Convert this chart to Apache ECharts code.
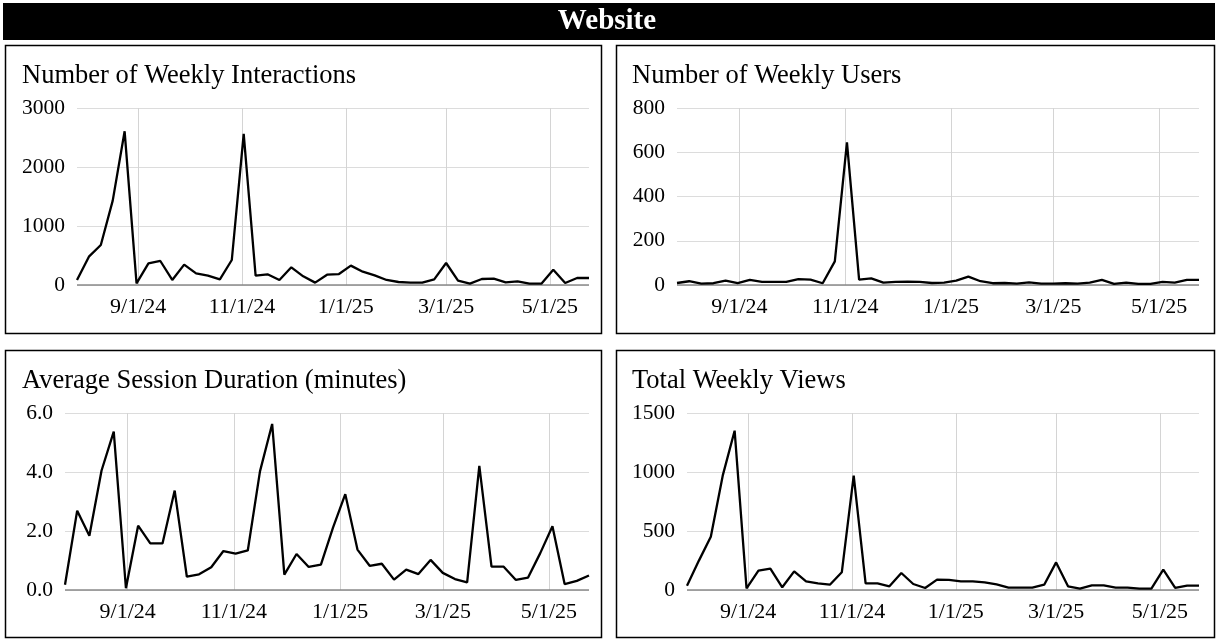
<!DOCTYPE html>
<html>
<head>
<meta charset="utf-8">
<script src="https://cdn.jsdelivr.net/npm/echarts@6/dist/echarts.min.js"></script>
<style>
html,body{margin:0;padding:0;background:#fff;}
#chart{width:1218px;height:640px;}
</style>
</head>
<body>
<div id="chart"></div>
<script>
const weeks = ['2024-07-27','2024-08-03','2024-08-10','2024-08-17','2024-08-24','2024-08-31','2024-09-07','2024-09-14','2024-09-21','2024-09-28','2024-10-05','2024-10-12','2024-10-19','2024-10-26','2024-11-02','2024-11-09','2024-11-16','2024-11-23','2024-11-30','2024-12-07','2024-12-14','2024-12-21','2024-12-28','2025-01-04','2025-01-11','2025-01-18','2025-01-25','2025-02-01','2025-02-08','2025-02-15','2025-02-22','2025-03-01','2025-03-08','2025-03-15','2025-03-22','2025-03-29','2025-04-05','2025-04-12','2025-04-19','2025-04-26','2025-05-03','2025-05-10','2025-05-17','2025-05-24'];
const dateTicks = ['2024-09-01','2024-11-01','2025-01-01','2025-03-01','2025-05-01'];

const interactions = [85,480,678,1430,2605,28,367,407,85,345,198,158,96,424,2560,158,181,85,300,147,40,175,186,328,226,164,85,51,40,40,96,373,73,23,102,107,45,62,23,23,260,34,119,119];
const users = [9,17,6,8,20,8,23,14,14,14,27,24,8,107,645,24,30,11,14,15,14,9,11,20,38,17,8,9,6,12,6,6,8,6,11,23,5,11,5,5,14,11,23,23];
const sessionMinutes = [0.18,2.69,1.84,4.05,5.37,0.06,2.18,1.58,1.58,3.37,0.45,0.53,0.77,1.32,1.23,1.34,4.02,5.63,0.52,1.22,0.78,0.86,2.12,3.25,1.37,0.82,0.89,0.35,0.69,0.54,1.02,0.58,0.37,0.26,4.21,0.79,0.79,0.34,0.42,1.25,2.16,0.20,0.31,0.49];
const views = [37,249,452,969,1350,14,164,181,23,158,73,56,45,150,969,56,56,31,144,51,17,88,85,73,73,65,48,20,20,20,45,234,31,11,40,40,20,20,11,11,172,17,37,37];

const panelTitles = ['Number of Weekly Interactions','Number of Weekly Users','Average Session Duration (minutes)','Total Weekly Views'];
const headerTitle = 'Website';

const FONT = '"Liberation Serif","Times New Roman",serif';
const chart = echarts.init(document.getElementById('chart'), null, {renderer:'canvas'});

function toTs(s){ const [y,m,d] = s.split('-').map(Number); return new Date(y, m-1, d).getTime(); }
const weekTs = weeks.map(toTs);
const tickTs = dateTicks.map(toTs);

const panels = [
  {data: interactions, max:3000, interval:1000, dec:0, grid:{left:77,right:629,top:108,bottom:355}, box:[5,45,596,288], tx:22, ty:90},
  {data: users, max:800, interval:200, dec:0, grid:{left:677,right:19,top:108,bottom:355}, box:[616,45,598,288], tx:632, ty:90},
  {data: sessionMinutes, max:6, interval:2, dec:1, grid:{left:65,right:629,top:413,bottom:50}, box:[5,350,596,287], tx:22, ty:395},
  {data: views, max:1500, interval:500, dec:0, grid:{left:687,right:19,top:413,bottom:50}, box:[616,350,598,287], tx:632, ty:395}
];

function fmtDate(v){
  const d = new Date(v);
  return (d.getMonth()+1)+'/'+d.getDate()+'/'+String(d.getFullYear()).slice(2);
}

const graphic = [
  {type:'rect', shape:{x:3,y:3,width:1212,height:37}, style:{fill:'#000'}, z:10},
  {type:'text', x:607, y:22, style:{text:headerTitle, fill:'#fff', font:'bold 29px '+FONT, textAlign:'center', textVerticalAlign:'middle'}, z:11}
];
panels.forEach((p,i)=>{
  graphic.push({type:'rect', shape:{x:p.box[0]+0.5,y:p.box[1]+0.5,width:p.box[2],height:p.box[3]}, style:{fill:'none', stroke:'#000', lineWidth:1.5}, z:10});
  graphic.push({type:'text', x:p.tx, y:p.ty, style:{text:panelTitles[i], fill:'#000', font:'26.5px '+FONT, textAlign:'left', textVerticalAlign:'bottom'}, z:11});
});

const option = {
  backgroundColor:'#fff',
  animation:false,
  graphic: graphic,
  grid: panels.map(p=>Object.assign({containLabel:false}, p.grid)),
  xAxis: panels.map((p,i)=>({
    type:'value', gridIndex:i,
    min: weekTs[0], max: weekTs[weekTs.length-1],
    axisLine:{show:false},
    axisTick:{show:false, customValues: tickTs},
    axisLabel:{customValues: tickTs, formatter: fmtDate, color:'#000', fontFamily:FONT, fontSize:22, margin:11, hideOverlap:false, showMinLabel:true, showMaxLabel:true},
    splitLine:{show:true, showMinLine:true, showMaxLine:true, lineStyle:{color:'#d4d4d4', width:1}}
  })),
  yAxis: panels.map((p,i)=>({
    type:'value', gridIndex:i, min:0, max:p.max, interval:p.interval,
    axisLine:{show:false}, axisTick:{show:false},
    axisLabel:{color:'#000', fontFamily:FONT, fontSize:21.5, margin:12, formatter: v=>v.toFixed(p.dec)},
    splitLine:{show:true, lineStyle:{color:'#dcdcdc', width:1}}
  })),
  series: panels.map((p,i)=>({
    type:'line', xAxisIndex:i, yAxisIndex:i,
    data: weekTs.map((t,j)=>[t, p.data[j]]),
    showSymbol:false, symbol:'none',
    lineStyle:{color:'#000', width:2.3},
    markLine:{silent:true, symbol:'none', label:{show:false}, lineStyle:{color:'#8a8a8a', width:1.5, type:'solid'}, data:[{yAxis:0}], animation:false},
    z:5
  }))
};
chart.setOption(option);
</script>
</body>
</html>
